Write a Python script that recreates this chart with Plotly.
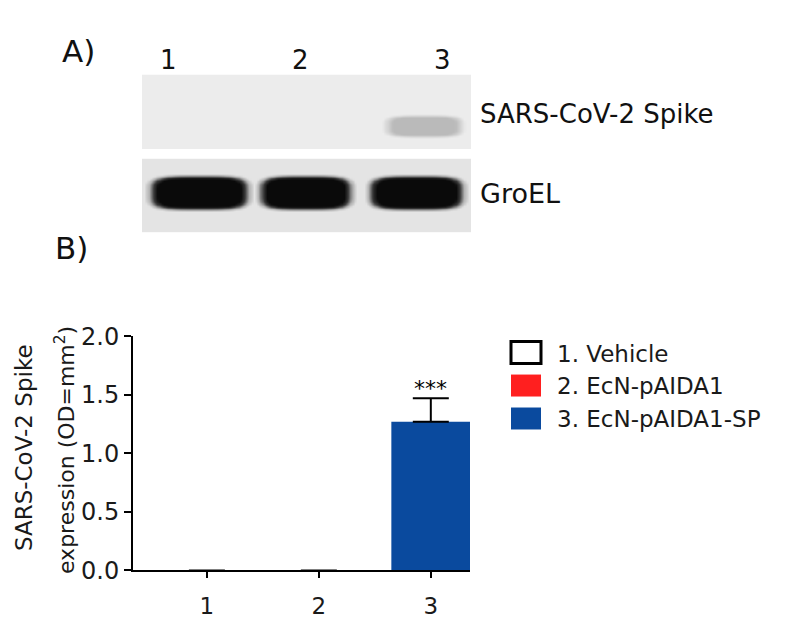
import numpy as np
import plotly.graph_objects as go

# %% data
groups = ["1", "2", "3"]
legend_names = ["1. Vehicle", "2. EcN-pAIDA1", "3. EcN-pAIDA1-SP"]
spike_expr = [0.0, 0.0, 1.27]      # OD=mm^2
spike_sem = [0.0, 0.0, 0.20]
signif = ["", "", "***"]

# western blot band intensities per lane (0 = none, 1 = saturated)
blot_spike = [0.0, 0.0, 0.30]
blot_groel = [1.0, 1.0, 1.0]

fill_colors = ["white", "#ff1f1f", "#0a4a9e"]
edge_colors = ["black", "#ff1f1f", "#0a4a9e"]

W, H = 788, 628
FONT = "DejaVu Sans"


def px(x):
    return x / W


def py(y):
    return 1 - y / H


def label(x, y, text, size, xanchor="center", angle=0, color="#111"):
    # paper annotation placed in pixel coords
    return dict(x=px(x), y=py(y), xref="paper", yref="paper", text=text,
                showarrow=False, xanchor=xanchor, yanchor="middle",
                textangle=angle, font=dict(size=size, color=color))


# %% blot images, built from the lane intensities
bx = np.arange(0.5, 3.5001, 0.02)
by = np.arange(0.0, 1.0001, 0.02)
gx, gy = np.meshgrid(bx, by)


def blot(signal, lane_off, half_w, yc, half_h, base):
    z = np.full(gx.shape, base)
    for i, s in enumerate(signal):
        if s <= 0:
            continue
        d = ((np.abs(gx - (i + 1 + lane_off[i])) / half_w[i]) ** 4
             + (np.abs(gy - yc) / half_h) ** 4) ** 0.25
        z = np.maximum(z, s * np.clip((1.12 - d) / 0.28, 0, 1))
    return z


z_spike = blot(blot_spike, [0, 0, 0.07], [0.3, 0.3, 0.34], 0.69, 0.14, 0.0)
z_groel = blot(blot_groel, [0.02, -0.01, 0.0], [0.45, 0.42, 0.43], 0.46, 0.23, 0.05)

gray = [[0, "#ececec"], [0.35, "#b2b2b2"], [0.7, "#3a3a3a"], [1, "#0a0a0a"]]

fig = go.Figure()
fig.add_trace(go.Heatmap(x=bx, y=by, z=z_spike, colorscale=gray, zmin=0, zmax=1,
                         zsmooth="best", showscale=False, hoverinfo="skip",
                         xaxis="x2", yaxis="y2"))
fig.add_trace(go.Heatmap(x=bx, y=by, z=z_groel, colorscale=gray, zmin=0, zmax=1,
                         zsmooth="best", showscale=False, hoverinfo="skip",
                         xaxis="x2", yaxis="y3"))

# %% bar chart
err_up = [e if e > 0 else None for e in spike_sem]
fig.add_trace(go.Bar(
    x=[1, 2, 3], y=spike_expr, width=0.705,
    marker=dict(color=fill_colors, line=dict(width=0)),
    error_y=dict(type="data", symmetric=False, array=err_up,
                 arrayminus=[0 if e else None for e in err_up], color="black",
                 thickness=2, width=18),
    showlegend=False, hoverinfo="skip",
))

ann = []
for i, s in enumerate(signif):
    if s:
        ann.append(dict(x=i + 1, y=spike_expr[i] + spike_sem[i], xref="x", yref="y",
                        text=s, showarrow=False, xanchor="center", yanchor="bottom",
                        yshift=-5, font=dict(size=22, color="black")))

# legend drawn by hand so the swatches match the original size
shapes = []
for i, name in enumerate(legend_names):
    yc = 346 + i * 34.5
    shapes.append(dict(type="rect", xref="paper", yref="paper",
                       x0=px(503), x1=px(533), y0=py(yc + 11.5), y1=py(yc - 11.5),
                       fillcolor=fill_colors[i],
                       line=dict(color=edge_colors[i], width=3 if i == 0 else 0)))
    ann.append(label(547, yc + 1, name, 23, xanchor="left", color="#1a1a1a"))

# y-axis title as two lines
ann.append(label(16, 446, "SARS-CoV-2 Spike", 23, angle=-90, color="#1a1a1a"))
ann.append(label(57, 448, "expression (OD=mm<sup>2</sup>)", 22, angle=-90, color="#1a1a1a"))

# panel letters, lane numbers and blot labels
ann.append(label(70, 30, "A)", 31))
ann.append(label(63, 237, "B)", 31))
lane_label_x = [160, 292, 435]
for g, xx in zip(groups, lane_label_x):
    ann.append(label(xx, 40, g, 26))
ann.append(label(470, 96, "SARS-CoV-2 Spike", 26, xanchor="left"))
ann.append(label(470, 179, "GroEL", 27, xanchor="left"))

fig.update_layout(
    width=W, height=H, margin=dict(l=0, r=0, t=0, b=0),
    paper_bgcolor="white", plot_bgcolor="white",
    font=dict(family=FONT, color="#1a1a1a"),
    showlegend=False,
    xaxis=dict(domain=[px(125), px(462)], range=[0.34, 3.35],
               tickvals=[1, 2, 3], ticktext=groups,
               showline=True, linewidth=2, linecolor="black",
               ticks="outside", ticklen=6, tickwidth=2, tickcolor="black",
               tickfont=dict(size=23), showgrid=False, zeroline=False,
               ticklabelstandoff=8),
    yaxis=dict(domain=[py(574), py(329)], range=[0, 2], dtick=0.5, tickformat=".1f",
               showline=True, linewidth=2, linecolor="black",
               ticks="outside", ticklen=7, tickwidth=2, tickcolor="black",
               tickfont=dict(size=24), showgrid=False, zeroline=False,
               ticklabelstandoff=0),
    xaxis2=dict(domain=[px(134), px(463)], range=[0.5, 3.5], visible=False,
                anchor="y2"),
    yaxis2=dict(domain=[py(133), py(55)], range=[1, 0], visible=False, anchor="x2"),
    yaxis3=dict(domain=[py(220), py(143)], range=[1, 0], visible=False, anchor="x2"),
    shapes=shapes,
    annotations=ann,
)

fig.write_html("out.html")
